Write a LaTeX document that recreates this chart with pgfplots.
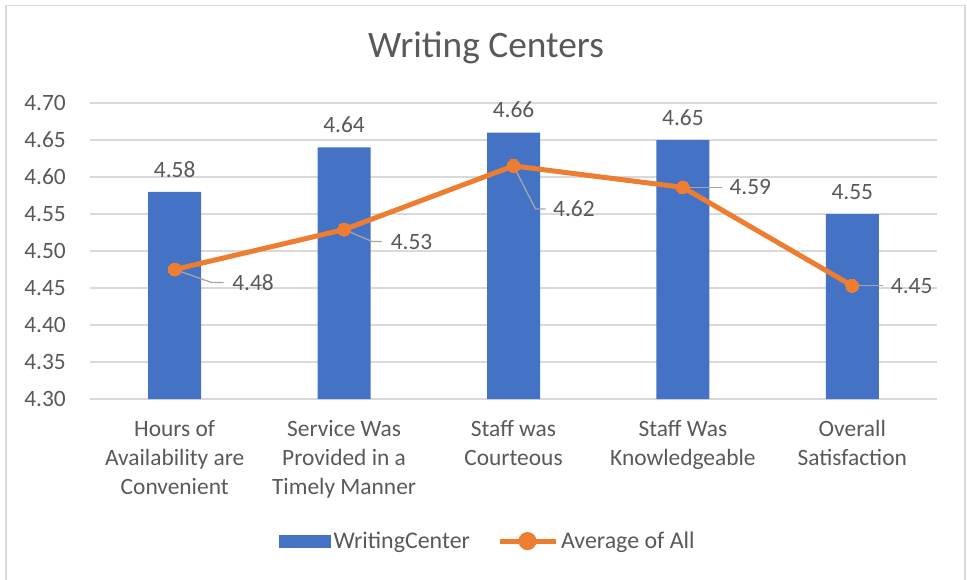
\documentclass[border=0pt]{standalone}
\usepackage{pgfplots}
\pgfplotsset{compat=1.18}
\usepackage{fontspec}
\setmainfont{Carlito}
\definecolor{wcblue}{HTML}{4472C4}
\definecolor{avgorange}{HTML}{ED7D31}
\definecolor{gridgray}{HTML}{D9D9D9}
\definecolor{txtgray}{HTML}{595959}
\definecolor{leadgray}{HTML}{A6A6A6}
\begin{document}
\begin{tikzpicture}
\useasboundingbox (0bp,0bp) rectangle (967bp,-580bp);
\draw[gridgray, line width=1.2bp] (6bp,-585bp) -- (6bp,-5.5bp) -- (965bp,-5.5bp) -- (965bp,-585bp);
\node[txtgray, font=\fontsize{37.5}{42}\selectfont] at (486bp,-48bp) {Writing Centers};
\begin{axis}[
  at={(90bp,-399bp)}, anchor=south west,
  scale only axis, width=847bp, height=296bp,
  xmin=-0.5, xmax=4.5, ymin=4.30, ymax=4.70,
  ytick={4.30,4.35,...,4.71},
  xtick={0,1,2,3,4},
  xticklabels={{Hours of\\Availability are\\Convenient},
               {Service Was\\Provided in a\\Timely Manner},
               {Staff was\\Courteous},
               {Staff Was\\Knowledgeable},
               {Overall\\Satisfaction}},
  /pgf/number format/assume math mode=true,
  yticklabel style={/pgf/number format/fixed, /pgf/number format/fixed zerofill,
                    /pgf/number format/precision=2,
                    anchor=east, inner sep=0pt, xshift=-24bp, font=\fontsize{23.5}{28}\selectfont, txtgray},
  xticklabel style={anchor=north, align=center, inner sep=0pt, yshift=-21bp,
                    font=\fontsize{23.5}{29}\selectfont, txtgray},
  major tick length=0pt,
  axis line style={draw=none},
  ymajorgrids, grid style={gridgray, line width=1.5bp},
  clip=false,
  legend columns=2,
  legend style={at={(0.470,-0.48)}, anchor=center, draw=none, fill=none,
                font=\fontsize{24}{28}\selectfont, text=txtgray,
                nodes={inner xsep=3bp},
                /tikz/every even column/.append style={column sep=24bp}},
]
\addplot[ybar, bar width=53bp, fill=wcblue, draw=none,
  nodes near coords, point meta=y,
  every node near coord/.append style={/pgf/number format/fixed, /pgf/number format/fixed zerofill,
    /pgf/number format/precision=2,
    anchor=south, yshift=11bp, txtgray, font=\fontsize{23.5}{28}\selectfont},
  legend image code/.code={\fill[wcblue] (0bp,-6.5bp) rectangle (52bp,6.5bp);}]
  coordinates {(0,4.58) (1,4.64) (2,4.66) (3,4.65) (4,4.55)};
\addlegendentry{WritingCenter}
\addplot[avgorange, line width=5bp, mark=*, mark size=6.5bp,
  mark options={fill=avgorange, draw=avgorange, line width=0pt},
  legend image code/.code={\draw[avgorange, line width=5bp] (0bp,0bp) -- (56bp,0bp);
    \fill[avgorange] (28bp,0bp) circle (6.5bp);}]
  coordinates {(0,4.475) (1,4.529) (2,4.615) (3,4.586) (4,4.453)};
\addlegendentry{Average of All}
% data labels of the average line, with their leader lines
\begin{scope}[leadgray, line width=1.3bp, every node/.style={txtgray, font=\fontsize{23.5}{28}\selectfont, inner sep=0pt, anchor=west}]
\draw (axis cs:0,4.475) -- ++(37bp,-13bp) -- ++(12bp,0bp) node[xshift=8bp] {4.48};
\draw (axis cs:1,4.529) -- ++(28bp,-12bp) -- ++(10bp,0bp) node[xshift=8bp] {4.53};
\draw (axis cs:2,4.615) -- ++(22bp,-43bp) -- ++(10bp,0bp) node[xshift=7bp] {4.62};
\draw (axis cs:3,4.586) -- ++(39bp,0bp) node[xshift=7bp] {4.59};
\draw (axis cs:4,4.453) -- ++(31bp,0bp) node[xshift=7bp] {4.45};
\end{scope}
\end{axis}
\end{tikzpicture}
\end{document}
